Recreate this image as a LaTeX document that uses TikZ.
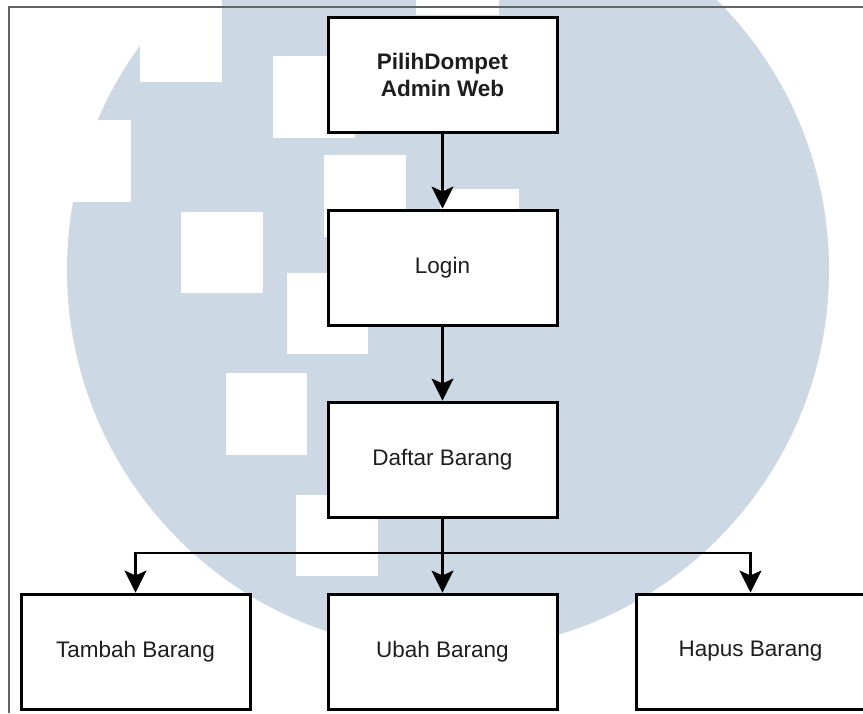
\documentclass[tikz,border=0pt]{standalone}
\usepackage{fontspec}
\setmainfont{Liberation Sans}
\usetikzlibrary{arrows.meta}
\definecolor{wm}{RGB}{204,216,227}
\definecolor{frame}{RGB}{100,100,100}
\definecolor{txt}{RGB}{30,30,30}
\tikzset{
  box/.style={draw=black, line width=3pt, fill=white, minimum width=229pt, minimum height=115pt,
    inner sep=0pt, text=txt, align=center, font=\fontsize{22.5}{27.5}\selectfont},
  conn/.style={draw=black, line width=3pt, -{Stealth[length=22pt,width=22pt,inset=5pt,line width=0.5pt]}},
  wsq/.style={fill=white, draw=none}
}
\begin{document}
\begin{tikzpicture}[x=1pt,y=-1pt]
\clip (0,0) rectangle (863,713);
\fill[white] (0,0) rectangle (863,713);
% watermark
\fill[wm] (448,270) circle (381);
\fill[wsq] (140,-10) rectangle (222,82);
\fill[wsq] (273,56) rectangle (355,138);
\fill[wsq] (49,120) rectangle (131,202);
\fill[wsq] (181,212) rectangle (263,293);
\fill[wsq] (324,155) rectangle (406,237);
\fill[wsq] (440,189) rectangle (519,271);
\fill[wsq] (287,273) rectangle (368,354);
\fill[wsq] (226,373) rectangle (307,455);
\fill[wsq] (296,495) rectangle (378,576);
\fill[wsq] (416,-70) rectangle (499,15);
% frame
\draw[frame, line width=1.3pt] (9,713) -- (9,7) -- (863,7);
% nodes
\node[box, font=\fontsize{22.5}{27.5}\selectfont\bfseries] (p) at (442.5,75) {PilihDompet\\Admin Web};
\node[box] (l) at (442.5,267.5) {Login};
\node[box] (d) at (442.5,459.5) {Daftar Barang};
\node[box] (t) at (135.5,651.5) {Tambah Barang};
\node[box] (u) at (442.5,651.5) {Ubah Barang};
\node[box] (h) at (750.5,651.5) {Hapus Barang};
\coordinate (bus) at (442.5,553);
% connectors
\draw[conn] (p) -- (l);
\draw[conn] (l) -- (d);
\draw[conn] (d) -- (u);
\draw[conn, line width=2.6pt] (bus) -| (t.north);
\draw[conn, line width=2.6pt] (bus) -| (h.north);
\end{tikzpicture}
\end{document}
